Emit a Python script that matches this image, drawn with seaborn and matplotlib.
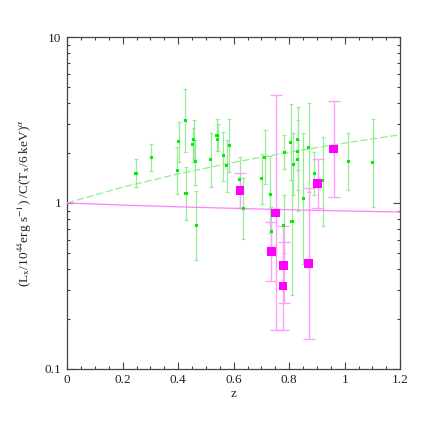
import numpy as np
import pandas as pd
import matplotlib
matplotlib.use("Agg")
import matplotlib.pyplot as plt
import seaborn as sns
from matplotlib.ticker import MultipleLocator, LogLocator, FixedLocator, NullFormatter, FuncFormatter

#
# Normalised L-T ratio versus redshift, two samples
#

# green sample: redshift, ratio, top and bottom of error bar
green_z = [0.248, 0.303, 0.396, 0.402, 0.426, 0.428, 0.453, 0.456, 0.462, 0.466,
           0.517, 0.540, 0.542, 0.563, 0.575, 0.584, 0.622, 0.635, 0.701, 0.712,
           0.731, 0.735, 0.781, 0.783, 0.806, 0.810, 0.815, 0.831, 0.831, 0.831,
           0.850, 0.871, 0.891, 0.921, 1.013, 1.101]
green_y = [1.51, 1.87, 1.57, 2.34, 3.13, 1.14, 2.24, 2.41, 1.77, 0.73,
           1.82, 2.56, 2.42, 1.94, 1.68, 2.21, 1.38, 0.93, 1.40, 1.89,
           1.12, 0.67, 0.73, 2.02, 2.31, 0.77, 1.71, 2.40, 2.03, 1.82,
           1.07, 2.17, 1.50, 1.36, 1.77, 1.75]
green_hi = [1.83, 2.26, 2.17, 3.09, 4.84, 1.64, 2.84, 3.15, 2.40, 1.18,
            2.63, 3.19, 2.98, 2.69, 2.40, 3.19, 1.90, 1.41, 1.97, 2.74,
            1.92, 0.95, 1.12, 2.56, 3.95, 1.38, 2.63, 3.80, 3.16, 2.40,
            2.63, 4.02, 2.03, 2.51, 2.63, 3.19]
green_lo = [1.24, 1.56, 1.13, 1.76, 2.03, 0.79, 1.76, 1.84, 1.28, 0.45,
            1.25, 2.05, 2.05, 1.36, 1.16, 1.53, 0.93, 0.61, 0.99, 1.31,
            0.66, 0.50, 0.50, 1.60, 1.38, 0.28, 1.12, 1.58, 1.20, 0.89,
            0.43, 1.17, 1.12, 0.73, 1.20, 0.95]

# magenta sample
mag_z = [0.622, 0.736, 0.751, 0.777, 0.780, 0.870, 0.902, 0.960]
mag_y = [1.19, 0.51, 0.87, 0.316, 0.42, 0.43, 1.31, 2.12]
mag_hi = [1.51, 0.77, 4.47, 0.73, 0.58, 1.23, 1.84, 4.13]
mag_lo = [0.93, 0.34, 0.172, 0.172, 0.25, 0.151, 0.93, 1.08]

# evolution curves
curve_z = [0.0, 0.2, 0.4, 0.6, 0.8, 1.0, 1.2]
green_curve = [1.00, 1.245, 1.497, 1.758, 2.025, 2.297, 2.577]
mag_curve = [1.00, 0.971, 0.948, 0.928, 0.910, 0.895, 0.882]

sns.set_theme(style="ticks")
plt.rcParams['font.family'] = ['Liberation Serif', 'DejaVu Serif']
plt.rcParams['mathtext.fontset'] = 'stix'

green = pd.DataFrame({"z": green_z, "y": green_y, "hi": green_hi, "lo": green_lo})
mag = pd.DataFrame({"z": mag_z, "y": mag_y, "hi": mag_hi, "lo": mag_lo})
curves = pd.DataFrame({"z": curve_z, "green": green_curve, "mag": mag_curve})

fig = plt.figure(figsize=(4.36, 4.36), dpi=100)
ax = fig.add_axes([0.154, 0.154, 0.764, 0.761])

# error bars
ax.errorbar(green["z"], green["y"], yerr=[green["y"] - green["lo"], green["hi"] - green["y"]],
            fmt="none", ecolor="#98ec98", elinewidth=0.9, capsize=1.5, capthick=0.9, zorder=2)
ax.errorbar(mag["z"], mag["y"], yerr=[mag["y"] - mag["lo"], mag["hi"] - mag["y"]],
            fmt="none", ecolor="#ffa0ff", elinewidth=1.0, capsize=4, capthick=1.0, zorder=2)

# curves
sns.lineplot(data=curves, x="z", y="green", ax=ax, color="#90ee90", lw=0.9, zorder=3)
ax.lines[-1].set_dashes([6, 2])
sns.lineplot(data=curves, x="z", y="mag", ax=ax, color="#ff80ff", lw=0.9, zorder=3)

# points
sns.scatterplot(data=green, x="z", y="y", ax=ax, marker="s", s=5, color="#00ee00",
                edgecolor="none", zorder=4)
sns.scatterplot(data=mag, x="z", y="y", ax=ax, marker="s", s=38, color="#ff00ff",
                edgecolor="none", zorder=5)

ax.set_yscale("log")
ax.set_xlim(0, 1.2)
ax.set_ylim(0.1, 10)
ax.xaxis.set_major_locator(MultipleLocator(0.2))
ax.xaxis.set_minor_locator(MultipleLocator(0.05))
ax.xaxis.set_major_formatter(FuncFormatter(lambda v, p: f"{v:g}"))
ax.yaxis.set_major_locator(FixedLocator([0.1, 1, 10]))
ax.yaxis.set_major_formatter(FuncFormatter(lambda v, p: f"{v:g}"))
ax.yaxis.set_minor_locator(LogLocator(base=10, subs=np.arange(2, 10)))
ax.yaxis.set_minor_formatter(NullFormatter())

ax.tick_params(which="both", direction="in", top=True, right=True, color="#444444",
               labelsize=9.5, labelcolor="#222222", pad=4)
ax.tick_params(which="major", length=5, width=0.8)
ax.tick_params(which="minor", length=2.5, width=0.8)
for s in ax.spines.values():
    s.set_color("#444444")
    s.set_linewidth(0.9)

ax.set_xlabel("z", fontsize=9.5, color="#222222", labelpad=1)
ax.set_ylabel(r"(L$_{\rm x}$/10$^{44}$erg s$^{-1}$) /C(T$_{\rm x}$/6 keV)$^{\alpha}$",
              fontsize=9.5, color="#222222", labelpad=8)

fig.savefig("out.png", dpi=100)
